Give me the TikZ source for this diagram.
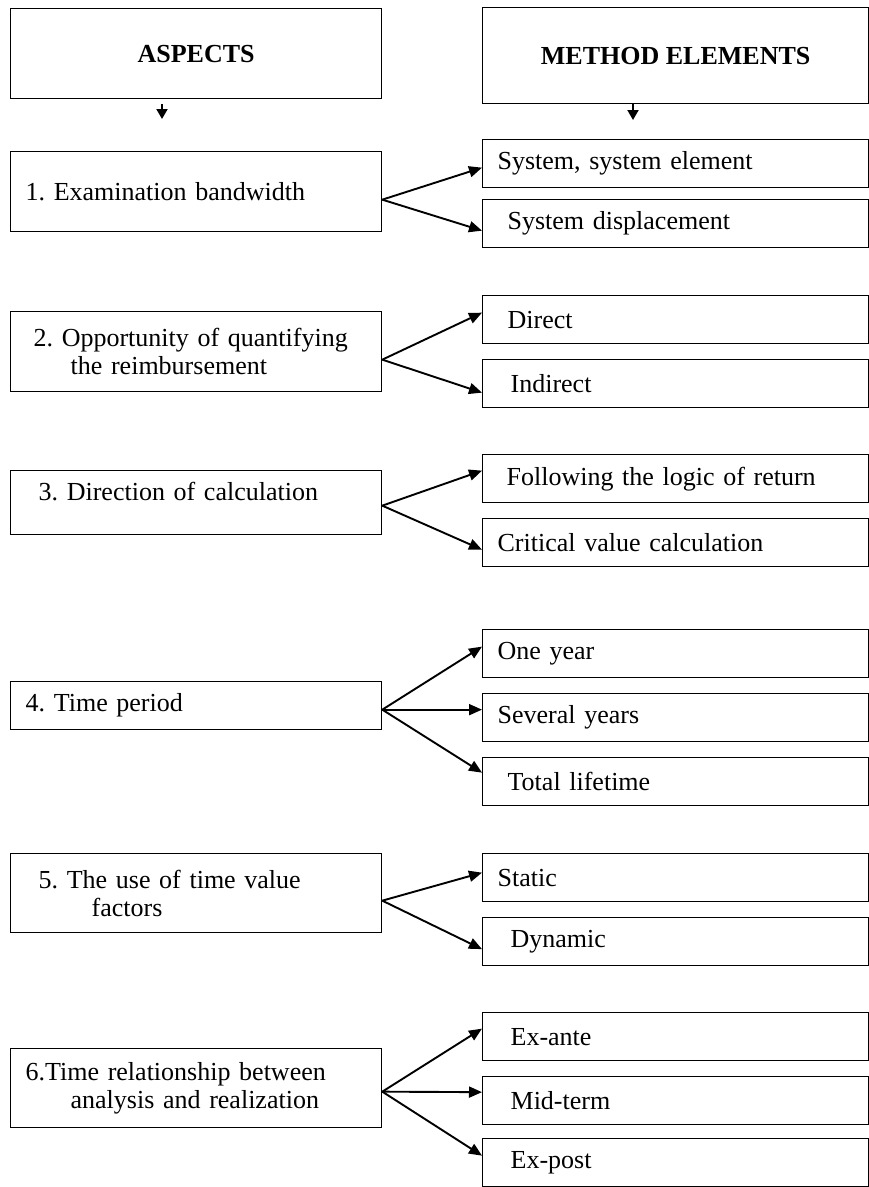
\documentclass[tikz,border=0pt]{standalone}
\usepackage{fontspec}
\setmainfont{Liberation Serif}
\usetikzlibrary{arrows.meta}

\newcommand{\diagfont}{\fontsize{26pt}{28pt}\selectfont\frenchspacing}

\tikzset{every picture/.style={line width=1.3pt}}
\tikzset{
	head/.style={draw, anchor=north west, font=\diagfont\bfseries, align=center, inner sep=0pt},
	aspect/.style={draw, anchor=north west, font=\diagfont, minimum width=371pt, text width=341pt,
		inner xsep=15pt, inner ysep=0pt, align=left},
	element/.style={draw, anchor=north west, font=\diagfont, minimum width=386pt, minimum height=48pt,
		text width=356pt, inner xsep=15pt, inner ysep=0pt, align=left},
	branch/.style={line width=1.9pt, -{Triangle[length=13pt,width=11pt]}},
	stub/.style={line width=1.9pt, -{Triangle[length=10pt,width=11pt]}}
}

\begin{document}
\begin{tikzpicture}[x=1pt,y=1pt,yscale=-1,xscale=1]
	\useasboundingbox (0,0) rectangle (869,1187);
	
	%Shape: Rectangle (headers)
	\node [head, minimum width=371pt, minimum height=90pt] (hAsp) at (10,8) {ASPECTS};
	\node [head, minimum width=386pt, minimum height=96pt] (hMeth) at (482,7) {METHOD ELEMENTS};
	
	%Straight Lines (below headers)
	\coordinate (aspTip) at (162,119);
	\coordinate (methTip) at (633,120);
	\draw [stub] (hAsp.south -| aspTip) ++(0,5) -- (aspTip);
	\draw [stub] (hMeth.south -| methTip) -- (methTip);
	
	%Shape: Rectangle (aspects)
	\node [aspect, minimum height=80pt] (a1) at (10,151) {1. Examination bandwidth};
	\node [aspect, minimum height=80pt] (a2) at (10,311) {\hspace*{8pt}2. Opportunity of quantifying\\\hspace*{45pt}the reimbursement};
	\node [aspect, minimum height=64pt] (a3) at (10,470) {\hspace*{13pt}3. Direction of calculation\\[-6pt]\mbox{}};
	\node [aspect, minimum height=48pt] (a4) at (10,681) {4. Time period};
	\node [aspect, minimum height=79pt] (a5) at (10,853) {\hspace*{13pt}5. The use of time value\\\hspace*{66pt}factors};
	\node [aspect, minimum height=79pt] (a6) at (10,1048) {6.Time relationship between\\\hspace*{45pt}analysis and realization};
	
	%Shape: Rectangle (method elements)
	\node [element] (m11) at (482,139) {System, system element};
	\node [element] (m12) at (482,199) {\hspace*{10pt}System displacement};
	\node [element] (m21) at (482,295) {\hspace*{10pt}Direct};
	\node [element] (m22) at (482,359) {\hspace*{13pt}Indirect};
	\node [element] (m31) at (482,454) {\hspace*{9pt}Following the logic of return};
	\node [element] (m32) at (482,518) {Critical value calculation};
	\node [element] (m41) at (482,629) {One year};
	\node [element] (m42) at (482,693) {Several years};
	\node [element] (m43) at (482,757) {\hspace*{10pt}Total lifetime};
	\node [element] (m51) at (482,853) {Static};
	\node [element] (m52) at (482,917) {\hspace*{13pt}Dynamic};
	\node [element] (m61) at (482,1012) {\hspace*{13pt}Ex-ante};
	\node [element] (m62) at (482,1076) {\hspace*{13pt}Mid-term};
	\node [element] (m63) at (482,1138) {\hspace*{13pt}Ex-post};
	
	%Straight Lines (branches)
	\draw [branch] ([yshift=8pt]a1.east) -- ([yshift=4pt]m11.west);
	\draw [branch] ([yshift=8pt]a1.east) -- ([yshift=7pt]m12.west);
	
	\draw [branch] ([yshift=8pt]a2.east) -- ([yshift=-7pt]m21.west);
	\draw [branch] ([yshift=8pt]a2.east) -- ([yshift=9pt]m22.west);
	
	\draw [branch] ([yshift=3pt]a3.east) -- ([yshift=-8pt]m31.west);
	\draw [branch] ([yshift=3pt]a3.east) -- ([yshift=7pt]m32.west);
	
	\draw [branch] ([yshift=4pt]a4.east) -- ([yshift=-7pt]m41.west);
	\draw [branch] ([yshift=4pt]a4.east) -- ([yshift=-8pt]m42.west);
	\draw [branch] ([yshift=4pt]a4.east) -- ([yshift=-9pt]m43.west);
	
	\draw [branch] ([yshift=7.5pt]a5.east) -- ([yshift=-5pt]m51.west);
	\draw [branch] ([yshift=7.5pt]a5.east) -- ([yshift=7.5pt]m52.west);
	
	\draw [branch] ([yshift=3.5pt]a6.east) -- ([yshift=-8pt]m61.west);
	\draw [branch] ([yshift=3.5pt]a6.east) -- ([yshift=-8.5pt]m62.west);
	\draw [branch] ([yshift=3.5pt]a6.east) -- ([yshift=-7pt]m63.west);
	
\end{tikzpicture}
\end{document}
